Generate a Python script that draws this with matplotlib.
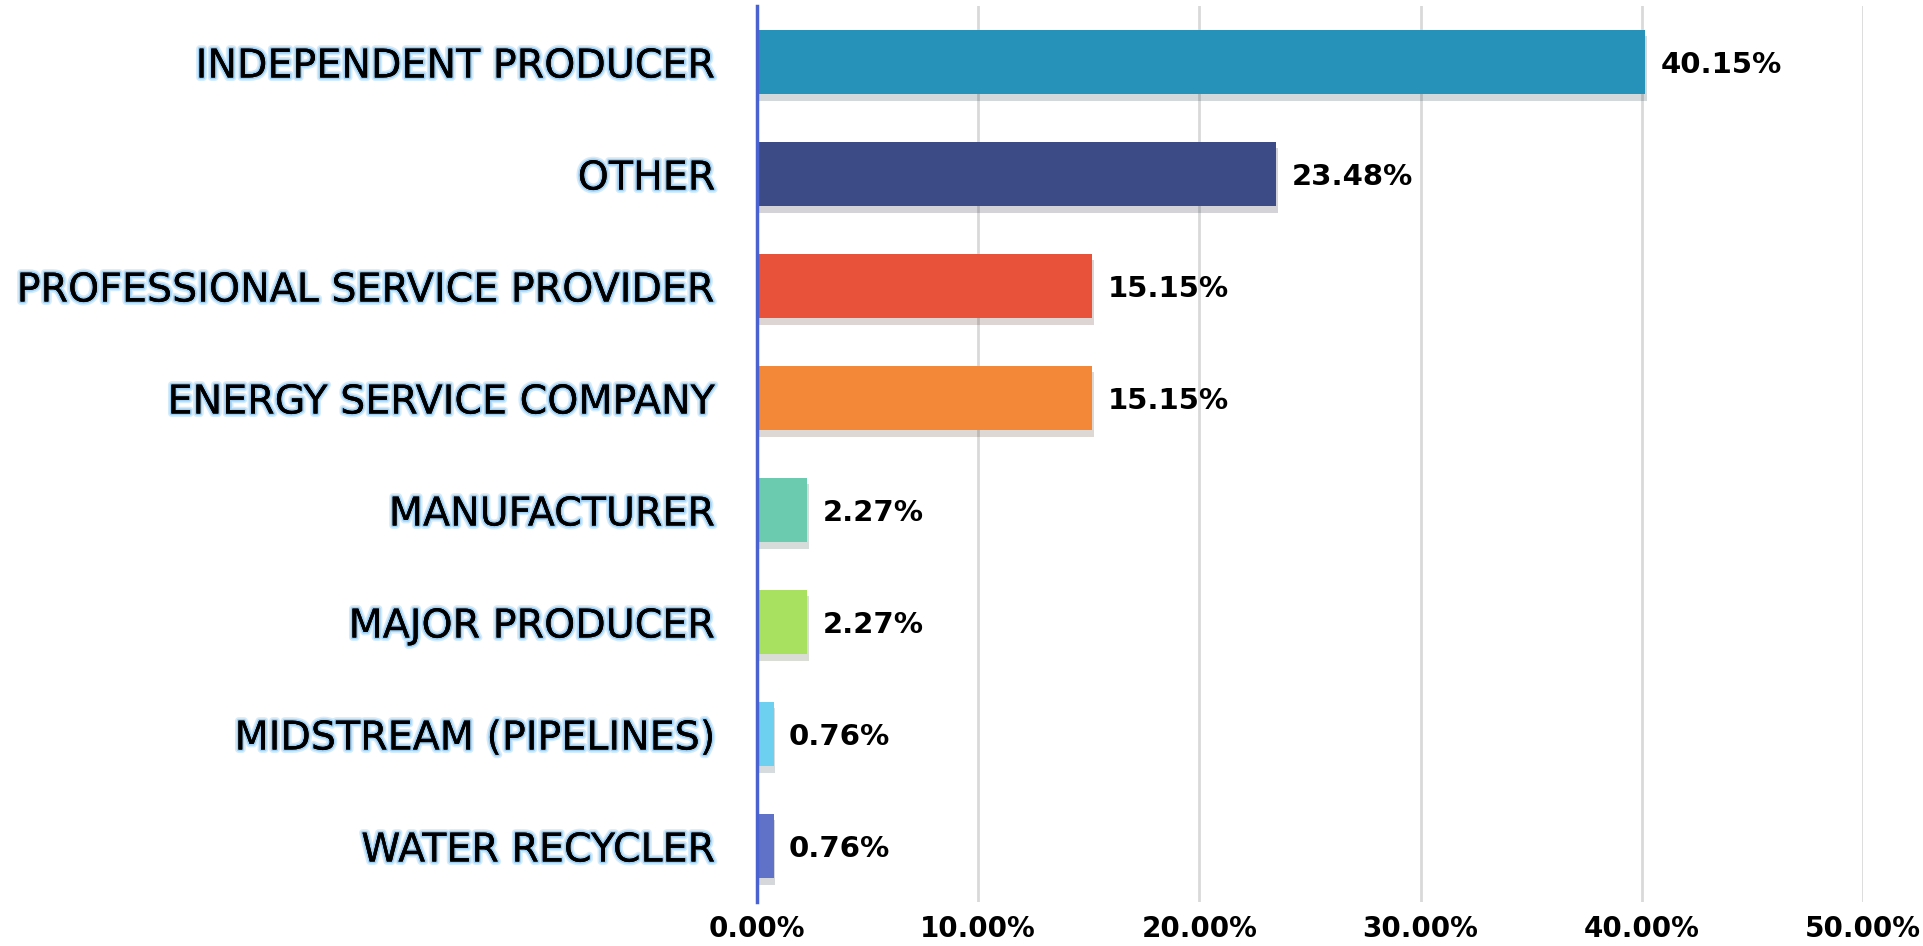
import matplotlib
matplotlib.use("Agg")
import matplotlib.pyplot as plt
import matplotlib.patheffects as pe
from matplotlib.ticker import FuncFormatter

categories = ["INDEPENDENT PRODUCER", "OTHER", "PROFESSIONAL SERVICE PROVIDER",
              "ENERGY SERVICE COMPANY", "MANUFACTURER", "MAJOR PRODUCER",
              "MIDSTREAM (PIPELINES)", "WATER RECYCLER"]
values = [40.15, 23.48, 15.15, 15.15, 2.27, 2.27, 0.76, 0.76]
colors = ["#2692B9", "#3C4A85", "#E8513A", "#F28838", "#6BCBAE", "#A8E060",
          "#6DD0F0", "#5F72C8"]
xticks = [0, 10, 20, 30, 40, 50]

fig = plt.figure(figsize=(19.24, 9.46), dpi=100)
ax = fig.add_axes([757/1924, 1-902/946, (1863-757)/1924, (902-6)/946])

y = list(range(len(categories)))
ax.barh(y, values, height=0.58, color=colors, zorder=3,
        path_effects=[pe.SimplePatchShadow(offset=(1, -5), alpha=0.18), pe.Normal()])
ax.set_ylim(len(categories)-0.5, -0.5)
ax.set_xlim(0, 50)
ax.set_xticks(xticks)
ax.xaxis.set_major_formatter(FuncFormatter(lambda v, p: f"{v:.2f}%"))
ax.set_yticks(y)
ax.set_yticklabels(categories, fontsize=28.5, color="black")
for lab in ax.get_yticklabels():
    lab.set_path_effects([pe.withStroke(linewidth=5, foreground="#b5dcf7", alpha=0.55),
                          pe.withStroke(linewidth=2.5, foreground="#7cc0f0", alpha=0.6),
                          pe.Normal()])
for lab in ax.get_xticklabels():
    lab.set_fontsize(20)
    lab.set_fontweight("bold")
ax.tick_params(axis="y", length=0, pad=30)
ax.tick_params(axis="x", length=0, pad=9)
ax.grid(axis="x", color="#d9d9d9", linewidth=2, zorder=0)
for s in ["top", "right", "bottom"]:
    ax.spines[s].set_visible(False)
ax.spines["left"].set_color("#4A62D0")
ax.spines["left"].set_linewidth(2.5)
ax.spines["left"].set_zorder(4)

for yi, v in zip(y, values):
    ax.annotate(f"{v:.2f}%", (v, yi), xytext=(11, -2), textcoords="offset points",
                va="center", ha="left", fontsize=21, fontweight="bold")

fig.savefig("out.png", dpi=100)
